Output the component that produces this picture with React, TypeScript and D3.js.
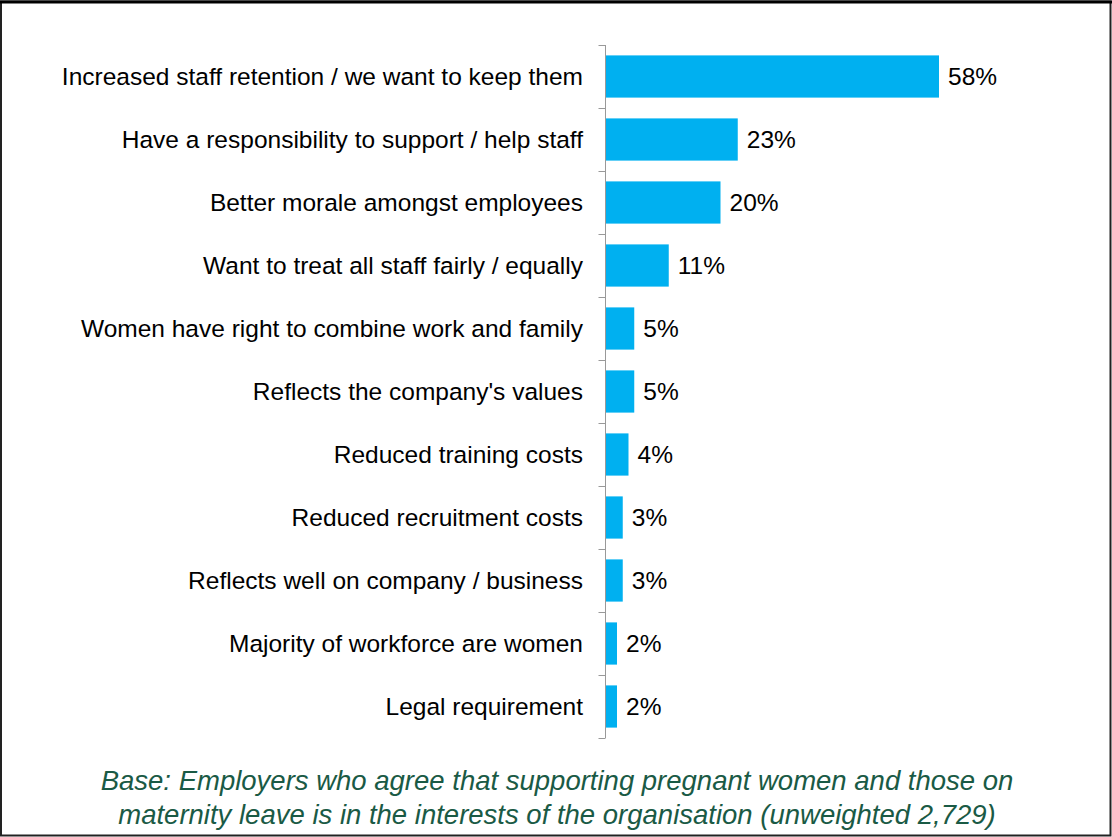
import React, { useRef, useEffect } from "react";
import * as d3 from "d3";

const categories = [
    "Increased staff retention / we want to keep them",
    "Have a responsibility to support / help staff",
    "Better morale amongst employees",
    "Want to treat all staff fairly / equally",
    "Women have right to combine work and family",
    "Reflects the company's values",
    "Reduced training costs",
    "Reduced recruitment costs",
    "Reflects well on company / business",
    "Majority of workforce are women",
    "Legal requirement",
];

const values = [58, 23, 20, 11, 5, 5, 4, 3, 3, 2, 2];

const footnoteLines = [
    "Base: Employers who agree that supporting pregnant women and those on",
    "maternity leave is in the interests of the organisation (unweighted\u00A02,729)",
];

const W = 1112;
const H = 837;

const App: React.FC = () => {
    const svgRef = useRef<SVGSVGElement | null>(null);

    useEffect(() => {
        document.body.style.margin = "0";
        if (!svgRef.current) return;
        const svg = d3.select(svgRef.current);
        svg.selectAll("*").remove();

        const axisX = 605.5;
        const top = 45;
        const bottom = 738;

        const x = d3.scaleLinear().domain([0, 60]).range([axisX, axisX + 345]);
        const y = d3
            .scaleBand<string>()
            .domain(categories)
            .range([top, bottom])
            .paddingInner(0.33)
            .paddingOuter(0.165);

        // frame
        svg.append("rect")
            .attr("x", 1)
            .attr("y", 1.5)
            .attr("width", W - 2.5)
            .attr("height", H - 3)
            .attr("fill", "white")
            .attr("stroke", "#222")
            .attr("stroke-width", 2);
        svg.append("line")
            .attr("x1", 0)
            .attr("x2", W)
            .attr("y1", 2)
            .attr("y2", 2)
            .attr("stroke", "#000")
            .attr("stroke-width", 3);

        // bars
        svg.selectAll(".bar")
            .data(values)
            .enter()
            .append("rect")
            .attr("class", "bar")
            .attr("x", x(0))
            .attr("y", (d, i) => y(categories[i])!)
            .attr("width", (d) => x(d) - x(0))
            .attr("height", y.bandwidth())
            .attr("fill", "#00B0F0");

        // value labels
        svg.selectAll(".val")
            .data(values)
            .enter()
            .append("text")
            .attr("class", "val")
            .attr("x", (d) => x(d) + 9)
            .attr("y", (d, i) => y(categories[i])! + y.bandwidth() / 2)
            .attr("dy", "0.35em")
            .style("font-family", "Arial, 'Liberation Sans', sans-serif")
            .style("font-size", "24.5px")
            .attr("fill", "#000")
            .text((d) => `${d}%`);

        // category labels
        svg.selectAll(".cat")
            .data(categories)
            .enter()
            .append("text")
            .attr("class", "cat")
            .attr("x", 583)
            .attr("y", (d) => y(d)! + y.bandwidth() / 2)
            .attr("dy", "0.35em")
            .attr("text-anchor", "end")
            .style("font-family", "Arial, 'Liberation Sans', sans-serif")
            .style("font-size", "24.5px")
            .attr("fill", "#000")
            .text((d) => d);

        // axis line with ticks at band boundaries
        const step = y.step();
        const boundaries = d3.range(categories.length + 1).map((i) => top + i * step);
        svg.append("line")
            .attr("x1", axisX)
            .attr("x2", axisX)
            .attr("y1", top)
            .attr("y2", bottom)
            .attr("stroke", "#999")
            .attr("stroke-width", 1);
        svg.selectAll(".tick")
            .data(boundaries)
            .enter()
            .append("line")
            .attr("class", "tick")
            .attr("x1", axisX - 7)
            .attr("x2", axisX)
            .attr("y1", (d) => Math.round(d) + 0.5)
            .attr("y2", (d) => Math.round(d) + 0.5)
            .attr("stroke", "#999")
            .attr("stroke-width", 1);

        // footnote
        svg.selectAll(".foot")
            .data(footnoteLines)
            .enter()
            .append("text")
            .attr("class", "foot")
            .attr("x", W / 2 + 1)
            .attr("y", (d, i) => 790 + i * 34)
            .attr("text-anchor", "middle")
            .style("font-family", "Arial, 'Liberation Sans', sans-serif")
            .style("font-size", "27.5px")
            .style("font-style", "italic")
            .attr("fill", "#1A5A45")
            .text((d) => d);
    }, []);

    return <svg ref={svgRef} width={W} height={H} style={{ display: "block" }} />;
};

export default App;
